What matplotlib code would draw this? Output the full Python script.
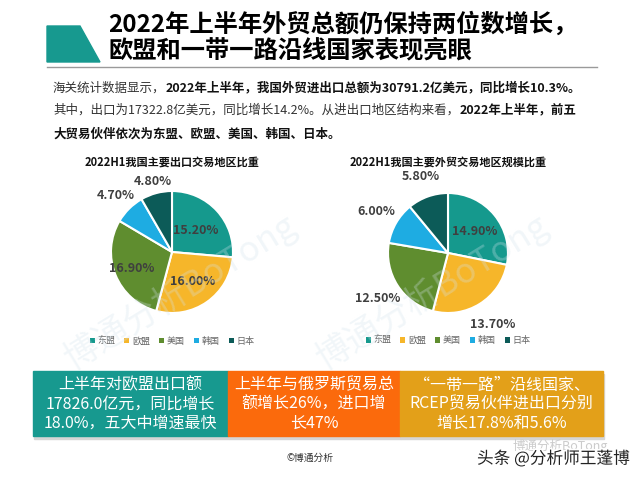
import matplotlib
matplotlib.use("Agg")
import matplotlib.pyplot as plt
import matplotlib.patheffects as pe
from matplotlib.patches import Polygon, Rectangle
import numpy as np

plt.rcParams["font.family"] = ["Noto Sans CJK SC", "DejaVu Sans"]

# data
regions = ["东盟", "欧盟", "美国", "韩国", "日本"]
export_share = [15.2, 16.0, 16.9, 4.7, 4.8]
trade_share = [14.9, 13.7, 12.5, 6.0, 5.8]
pie_colors = ["#15998d", "#f6b62a", "#5f8d2f", "#1eace2", "#0c5b58"]

title_lines = ["2022年上半年外贸总额仍保持两位数增长，", "欧盟和一带一路沿线国家表现亮眼"]
para_lines = [
    [("海关统计数据显示，", False), ("2022年上半年，我国外贸进出口总额为30791.2亿美元，同比增长10.3%。", True)],
    [("其中，出口为17322.8亿美元，同比增长14.2%。从进出口地区结构来看，", False), ("2022年上半年，前五", True)],
    [("大贸易伙伴依次为东盟、欧盟、美国、韩国、日本。", True)],
]
box_texts = [
    ["上半年对欧盟出口额", "17826.0亿元，同比增长", "18.0%，五大中增速最快"],
    ["上半年与俄罗斯贸易总", "额增长26%，进口增", "长47%"],
    ["“一带一路”沿线国家、", "RCEP贸易伙伴进出口分别", "增长17.8%和5.6%"],
]
box_colors = ["#17998f", "#fb6a0c", "#e3a019"]

W, H = 640, 480
fig = plt.figure(figsize=(6.4, 4.8), dpi=100)
fig.patch.set_facecolor("white")
bg = fig.add_axes([0, 0, 1, 1])
bg.set_xlim(0, W)
bg.set_ylim(H, 0)
bg.axis("off")

# header
bg.add_patch(Polygon([[47, 26], [80, 26], [100, 62], [47, 62]], closed=True, color="#17998f"))
for i, line in enumerate(title_lines):
    bg.text(108, 24 + i * 26, line, fontsize=17.5, fontweight="bold", color="black", va="center", ha="left")
bg.plot([47, 597], [67, 67], color="#9a9a9a", lw=1)

# paragraph with mixed bold / normal runs
renderer = fig.canvas.get_renderer()
para_y = [88, 110, 134]
for y, runs in zip(para_y, para_lines):
    x = 53
    for txt, bold in runs:
        t = bg.text(x, y, txt, fontsize=9, fontweight="bold" if bold else "normal",
                    color="#111111" if bold else "#333333", va="center", ha="left")
        x += t.get_window_extent(renderer=renderer).width


def draw_pie(cx, cy, r, values, title, dists):
    ax = fig.add_axes([(cx - r) / W, 1 - (cy + r) / H, 2 * r / W, 2 * r / H])
    wedges, _ = ax.pie(values, colors=pie_colors, startangle=90, counterclock=False,
                       wedgeprops=dict(edgecolor="white", linewidth=1.5))
    ax.set_xlim(-1, 1)
    ax.set_ylim(-1, 1)
    ax.axis("off")
    for w, v, d in zip(wedges, values, dists):
        a = np.deg2rad((w.theta1 + w.theta2) / 2)
        ax.text(d * np.cos(a), d * np.sin(a), f"{v:.2f}%", ha="center", va="center",
                fontsize=9, fontweight="bold", color="#3f3f3f")
    leg = ax.legend(wedges, regions, loc="center", bbox_to_anchor=(0.5, -0.23), ncol=5,
                    frameon=False, fontsize=6.5, handlelength=0.55, handleheight=0.55,
                    handletextpad=0.3, columnspacing=1.0, labelcolor="#666666")
    for h in leg.legend_handles:
        h.set_edgecolor("none")
    bg.text(cx, 162, title, fontsize=8, fontweight="bold", ha="center", va="center", color="#111111")


draw_pie(172, 252, 61, export_share, "2022H1我国主要出口交易地区比重", [0.52, 0.6, 0.72, 1.3, 1.2])
draw_pie(448, 253, 60, trade_share, "2022H1我国主要外贸交易地区规模比重", [0.57, 1.4, 1.4, 1.38, 1.35])

# faint diagonal watermarks
for wx in [180, 432]:
    fig.text(wx / W, 1 - 292 / H, "博通分析BoTong", fontsize=25, rotation=31.5, color="#d3e3ec",
             alpha=0.3, ha="center", va="center", zorder=10)

# bottom boxes
edges = [33, 228, 400, 603]
for i, (lines, c) in enumerate(zip(box_texts, box_colors)):
    x0, x1 = edges[i], edges[i + 1]
    bg.add_patch(Rectangle((x0 + 1, 374), x1 - x0, 65, color="#d6d6d6", zorder=1))
    bg.add_patch(Rectangle((x0, 371), x1 - x0, 65, color=c, zorder=2))
    for j, s in enumerate(lines):
        bg.text((x0 + x1) / 2, 385 + j * 19, s, fontsize=11.5, color="white",
                ha="center", va="center", zorder=3)

bg.text(310, 458, "©博通分析", fontsize=7, color="#333333", ha="center", va="center")
bg.text(560, 446, "博通分析BoTong", fontsize=9, color="#cccccc", ha="center", va="center")
bg.text(477, 459, "头条 @分析师王蓬博", fontsize=12, color="#222222", ha="left", va="center",
        path_effects=[pe.withStroke(linewidth=2.5, foreground="white")])

fig.savefig("out.png", dpi=100, facecolor="white")
